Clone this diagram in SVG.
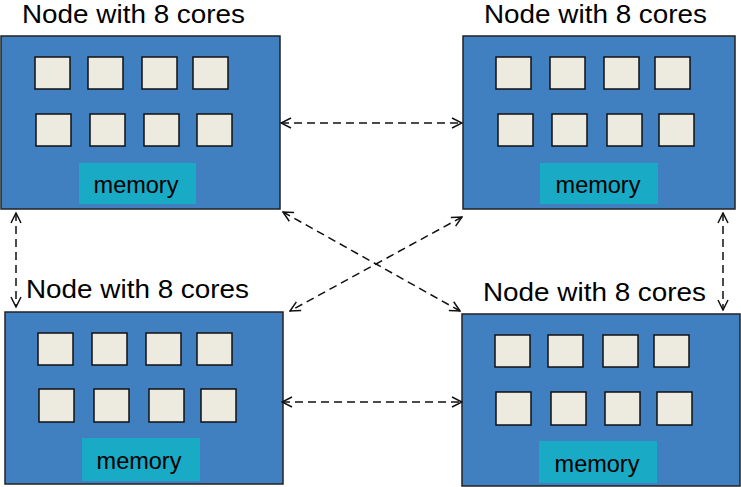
<svg xmlns="http://www.w3.org/2000/svg" width="741" height="487" viewBox="0 0 741 487">
<style>
.node{fill:#4180c0;stroke:#222;stroke-width:1.5}
.core{fill:#edeae0;stroke:#111;stroke-width:1.5}
.mem{fill:#19aac6}
.title{font-family:"Liberation Sans",Arial,sans-serif;font-size:25px;fill:#000}
.memt{font-family:"Liberation Sans",Arial,sans-serif;font-size:23.5px;fill:#000;text-anchor:middle}
.conn{fill:none;stroke:#111;stroke-width:1.5;stroke-dasharray:8,5;marker-start:url(#ah);marker-end:url(#ah)}
</style>
<defs>
<marker id="ah" viewBox="0 0 12 12" refX="11" refY="6" markerWidth="12" markerHeight="12" markerUnits="userSpaceOnUse" orient="auto-start-reverse">
<path d="M1,1 L11,6 L1,11" fill="none" stroke="#111" stroke-width="1.5"/>
</marker>
</defs>
<rect width="741" height="487" fill="#fff"/>
<g id="node-top-left">
<text class="title" x="22" y="23" textLength="223" lengthAdjust="spacingAndGlyphs">Node with 8 cores</text>
<rect class="node" x="1" y="36" width="279" height="173"/>
<rect class="core" x="35" y="57" width="35" height="32"/>
<rect class="core" x="88" y="57" width="35" height="32"/>
<rect class="core" x="142" y="57" width="35" height="32"/>
<rect class="core" x="193" y="57" width="35" height="32"/>
<rect class="core" x="36" y="114" width="35" height="32"/>
<rect class="core" x="90" y="114" width="35" height="32"/>
<rect class="core" x="144" y="114" width="35" height="32"/>
<rect class="core" x="197" y="114" width="35" height="32"/>
<rect class="mem" x="79" y="163" width="117" height="41"/>
<text class="memt" x="136" y="193">memory</text>
</g>
<g id="node-top-right">
<text class="title" x="484" y="23" textLength="223" lengthAdjust="spacingAndGlyphs">Node with 8 cores</text>
<rect class="node" x="463" y="36" width="272" height="173"/>
<rect class="core" x="496" y="57" width="35" height="32"/>
<rect class="core" x="550" y="57" width="35" height="32"/>
<rect class="core" x="604" y="57" width="35" height="32"/>
<rect class="core" x="655" y="57" width="35" height="32"/>
<rect class="core" x="498" y="114" width="35" height="32"/>
<rect class="core" x="552" y="114" width="35" height="32"/>
<rect class="core" x="607" y="114" width="35" height="32"/>
<rect class="core" x="659" y="114" width="35" height="32"/>
<rect class="mem" x="540" y="163" width="118" height="41"/>
<text class="memt" x="598" y="193">memory</text>
</g>
<g id="node-bottom-left">
<text class="title" x="26" y="298" textLength="223" lengthAdjust="spacingAndGlyphs">Node with 8 cores</text>
<rect class="node" x="5" y="312" width="278" height="172"/>
<rect class="core" x="38" y="333" width="35" height="32"/>
<rect class="core" x="92" y="333" width="35" height="32"/>
<rect class="core" x="146" y="333" width="35" height="32"/>
<rect class="core" x="197" y="333" width="35" height="32"/>
<rect class="core" x="39" y="389" width="35" height="33"/>
<rect class="core" x="94" y="389" width="35" height="33"/>
<rect class="core" x="149" y="389" width="35" height="33"/>
<rect class="core" x="201" y="389" width="35" height="33"/>
<rect class="mem" x="82" y="438" width="118" height="43"/>
<text class="memt" x="139" y="469">memory</text>
</g>
<g id="node-bottom-right">
<text class="title" x="483" y="301" textLength="223" lengthAdjust="spacingAndGlyphs">Node with 8 cores</text>
<rect class="node" x="462" y="314" width="278" height="172"/>
<rect class="core" x="495" y="335" width="35" height="32"/>
<rect class="core" x="548" y="335" width="35" height="32"/>
<rect class="core" x="603" y="335" width="35" height="32"/>
<rect class="core" x="654" y="335" width="35" height="32"/>
<rect class="core" x="496" y="392" width="35" height="33"/>
<rect class="core" x="551" y="392" width="35" height="33"/>
<rect class="core" x="605" y="392" width="35" height="33"/>
<rect class="core" x="657" y="392" width="35" height="33"/>
<rect class="mem" x="539" y="441" width="118" height="42"/>
<text class="memt" x="597" y="472">memory</text>
</g>
<g id="connectors">
<line class="conn" x1="281" y1="123" x2="462" y2="123"/>
<line class="conn" x1="282" y1="402" x2="462" y2="402"/>
<line class="conn" x1="283" y1="212" x2="460" y2="311"/>
<line class="conn" x1="462" y1="217" x2="290" y2="311"/>
<line class="conn" x1="16" y1="213" x2="16" y2="307"/>
<line class="conn" x1="723" y1="213" x2="723" y2="310"/>
</g>
</svg>
